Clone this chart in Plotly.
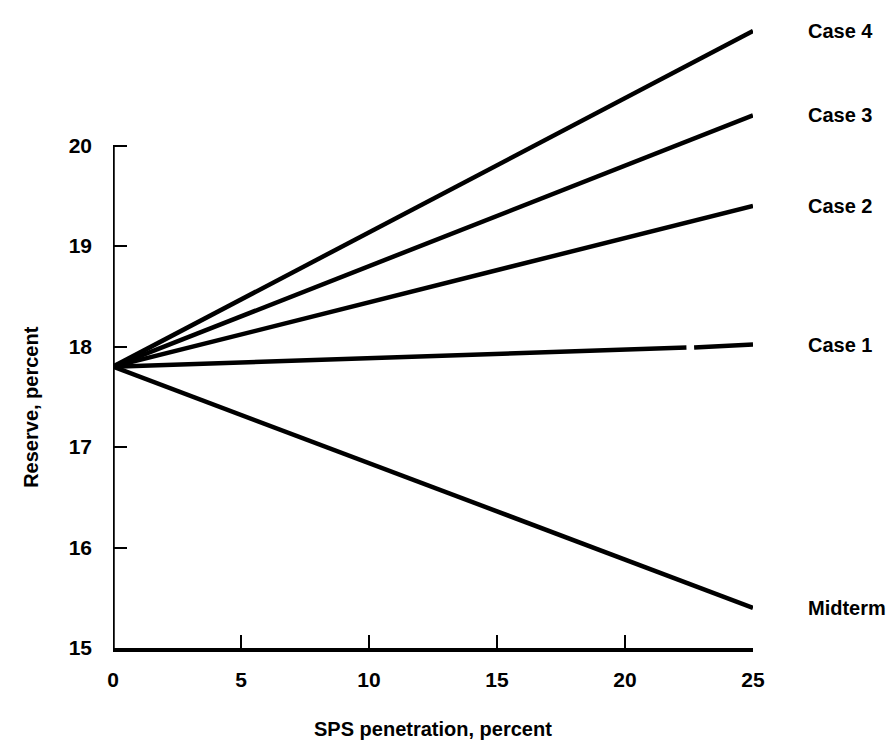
import plotly.graph_objects as go

# values (SPS penetration, percent -> reserve, percent)
penetration = [0, 25]
midterm = [17.8, 15.4]
case1_x = [0, 22.4, None, 22.7, 25]
case1 = [17.8, 17.99, None, 17.99, 18.02]
case2 = [17.8, 19.4]
case3 = [17.8, 20.3]
case4 = [17.8, 21.14]

series = [
    ("Case 4", penetration, case4),
    ("Case 3", penetration, case3),
    ("Case 2", penetration, case2),
    ("Case 1", case1_x, case1),
    ("Midterm", penetration, midterm),
]

x_ticks = [0, 5, 10, 15, 20, 25]
y_ticks = [15, 16, 17, 18, 19, 20]

FONT = "Liberation Sans Narrow, Arial Narrow, Liberation Sans, Arial, sans-serif"

fig = go.Figure()

for name, xs, ys in series:
    fig.add_trace(go.Scatter(x=xs, y=ys, mode="lines", name=name,
                             line=dict(color="black", width=4.5),
                             showlegend=False, hoverinfo="skip"))
    # label to the right of each line end
    fig.add_annotation(x=xs[-1], y=ys[-1], text=name, showarrow=False,
                       xanchor="left", xshift=53,
                       font=dict(family=FONT, size=20, color="black", weight="bold"))

# left axis only runs from 15 to 20
fig.add_shape(type="line", x0=0, x1=0, y0=15, y1=20,
              line=dict(color="black", width=3.5), layer="above")

fig.update_xaxes(range=[0, 25], tickvals=x_ticks, ticks="inside", ticklen=13,
                 tickwidth=2, tickcolor="black", showline=True, linewidth=3.5,
                 linecolor="black", showgrid=False, zeroline=False,
                 ticklabelstandoff=10,
                 tickfont=dict(family=FONT, size=21, color="black", weight="bold"))
fig.update_yaxes(range=[15, 21.2], tickvals=y_ticks, ticks="inside", ticklen=14,
                 tickwidth=2, tickcolor="black", showline=False,
                 showgrid=False, zeroline=False, ticklabelstandoff=20,
                 tickfont=dict(family=FONT, size=21, color="black", weight="bold"))

fig.add_annotation(text="SPS penetration, percent", xref="paper", yref="paper",
                   x=0.5, y=0, yshift=-81, showarrow=False, yanchor="middle",
                   font=dict(family=FONT, size=20, color="black", weight="bold"))
fig.add_annotation(text="Reserve, percent", xref="paper", yref="y",
                   x=0, xshift=-82, y=17.4, textangle=-90, showarrow=False,
                   xanchor="center",
                   font=dict(family=FONT, size=20, color="black", weight="bold"))

fig.update_layout(
    width=896, height=749,
    margin=dict(l=105, r=151, t=17, b=109),
    plot_bgcolor="white", paper_bgcolor="white",
)

fig.write_html("out.html")
